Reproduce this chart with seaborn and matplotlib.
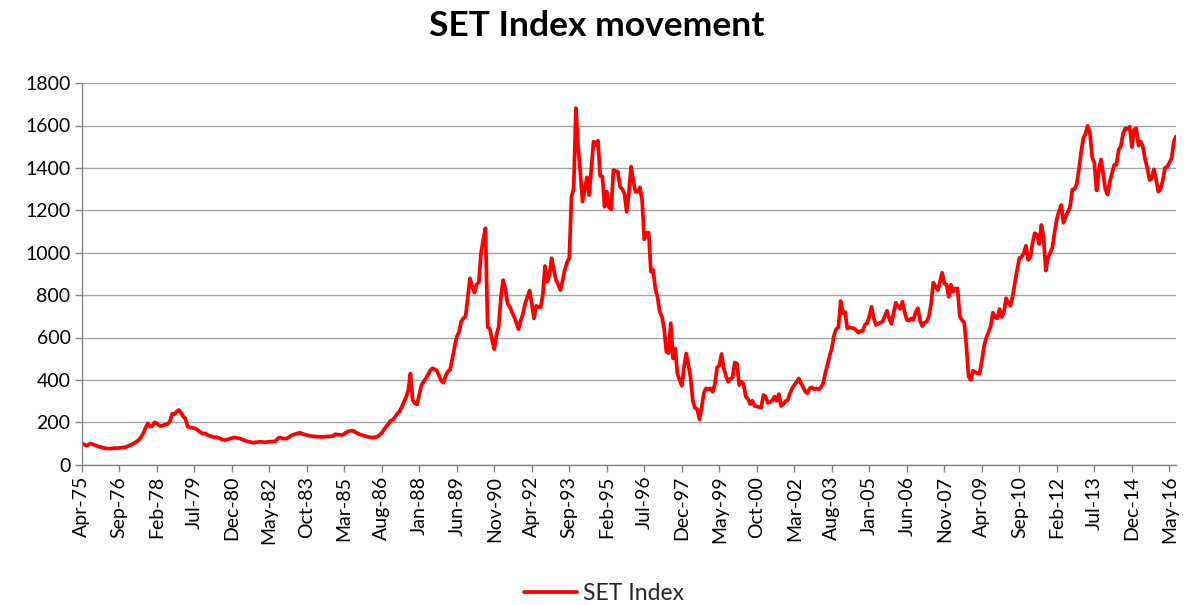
import numpy as np
import pandas as pd
import matplotlib
matplotlib.use("Agg")
import matplotlib.pyplot as plt
import seaborn as sns

# ---- data: month-end SET Index, Apr-1975 .. Aug-2016 ----
start_month = "1975-04"
tick_labels = ["Apr-75", "Sep-76", "Feb-78", "Jul-79", "Dec-80", "May-82", "Oct-83",
               "Mar-85", "Aug-86", "Jan-88", "Jun-89", "Nov-90", "Apr-92", "Sep-93",
               "Feb-95", "Jul-96", "Dec-97", "May-99", "Oct-00", "Mar-02", "Aug-03",
               "Jan-05", "Jun-06", "Nov-07", "Apr-09", "Sep-10", "Feb-12", "Jul-13",
               "Dec-14", "May-16"]
y_ticks = [0, 200, 400, 600, 800, 1000, 1200, 1400, 1600, 1800]

v1975 = [100, 96, 90, 94, 100, 96, 92, 88, 85]
v1976 = [82, 79, 77, 76, 76, 77, 78, 78, 79, 80, 81, 83]
v1977 = [88, 92, 97, 103, 110, 118, 132, 150, 175, 195, 180, 182]
v1978 = [200, 196, 185, 182, 186, 190, 192, 205, 240, 238, 250, 258]
v1979 = [245, 228, 218, 180, 176, 175, 172, 168, 160, 152, 146, 148]
v1980 = [140, 136, 133, 130, 129, 127, 122, 118, 116, 118, 122, 125]
v1981 = [128, 127, 125, 122, 118, 114, 110, 108, 105, 104, 106, 107]
v1982 = [108, 107, 106, 107, 108, 109, 110, 112, 125, 128, 124, 123]
v1983 = [124, 130, 138, 142, 145, 148, 151, 146, 142, 140, 137, 135]
v1984 = [134, 133, 132, 132, 131, 132, 133, 133, 134, 136, 144, 142]
v1985 = [141, 140, 145, 152, 158, 160, 160, 154, 148, 143, 140, 136]
v1986 = [134, 131, 129, 128, 130, 132, 140, 150, 165, 180, 192, 207]
v1987 = [212, 225, 240, 250, 270, 295, 318, 350, 430, 305, 290, 285]
v1988 = [330, 376, 392, 407, 425, 445, 455, 450, 443, 420, 395, 387]
v1989 = [420, 440, 448, 500, 555, 604, 625, 675, 690, 700, 790, 879]
v1990 = [840, 812, 850, 860, 1000, 1060, 1115, 650, 640, 590, 545, 612]
v1991 = [651, 790, 871, 830, 760, 745, 720, 698, 670, 639, 680, 711]
v1992 = [761, 790, 821, 760, 690, 749, 745, 742, 800, 937, 863, 893]
v1993 = [974, 920, 871, 850, 824, 870, 920, 955, 974, 1264, 1304, 1682]
v1994 = [1500, 1380, 1241, 1300, 1356, 1272, 1400, 1524, 1508, 1528, 1362, 1360]
v1995 = [1217, 1288, 1214, 1205, 1390, 1385, 1382, 1311, 1300, 1280, 1193, 1281]
v1996 = [1406, 1340, 1288, 1288, 1308, 1249, 1063, 1094, 1094, 910, 919, 832]
v1997 = [790, 722, 698, 640, 533, 527, 667, 502, 549, 430, 400, 373]
v1998 = [460, 525, 470, 410, 300, 267, 262, 214, 270, 340, 360, 356]
v1999 = [360, 344, 380, 459, 468, 522, 455, 420, 392, 405, 411, 482]
v2000 = [477, 376, 392, 380, 321, 310, 286, 302, 277, 275, 272, 269]
v2001 = [329, 321, 292, 295, 302, 321, 302, 333, 277, 285, 300, 304]
v2002 = [337, 360, 376, 390, 407, 385, 365, 345, 337, 360, 365, 356]
v2003 = [360, 355, 364, 380, 430, 470, 513, 550, 610, 640, 648, 772]
v2004 = [716, 720, 643, 648, 645, 643, 635, 623, 630, 631, 660, 668]
v2005 = [700, 745, 690, 659, 665, 670, 675, 700, 726, 690, 665, 714]
v2006 = [764, 745, 735, 769, 720, 683, 680, 690, 683, 720, 738, 680]
v2007 = [654, 670, 675, 700, 760, 859, 840, 824, 860, 906, 854, 850]
v2008 = [792, 849, 816, 831, 831, 700, 683, 670, 560, 415, 400, 443]
v2009 = [437, 430, 431, 490, 560, 597, 625, 653, 717, 697, 690, 734]
v2010 = [697, 720, 785, 763, 750, 797, 860, 920, 974, 980, 997, 1033]
v2011 = [966, 980, 1047, 1092, 1084, 1041, 1131, 1070, 916, 975, 1000, 1025]
v2012 = [1100, 1160, 1197, 1225, 1141, 1172, 1192, 1217, 1298, 1300, 1324, 1392]
v2013 = [1475, 1540, 1562, 1598, 1562, 1451, 1423, 1294, 1383, 1440, 1372, 1298]
v2014 = [1274, 1335, 1376, 1414, 1415, 1485, 1502, 1561, 1586, 1584, 1594, 1498]
v2015 = [1581, 1587, 1506, 1524, 1500, 1440, 1400, 1343, 1350, 1393, 1343, 1288]
v2016 = [1301, 1340, 1400, 1405, 1424, 1445, 1524, 1548]

values = (v1975 + v1976 + v1977 + v1978 + v1979 + v1980 + v1981 + v1982 + v1983 +
          v1984 + v1985 + v1986 + v1987 + v1988 + v1989 + v1990 + v1991 + v1992 +
          v1993 + v1994 + v1995 + v1996 + v1997 + v1998 + v1999 + v2000 + v2001 +
          v2002 + v2003 + v2004 + v2005 + v2006 + v2007 + v2008 + v2009 + v2010 +
          v2011 + v2012 + v2013 + v2014 + v2015 + v2016)

months = pd.date_range(start_month, periods=len(values), freq="MS")
df = pd.DataFrame({"idx": np.arange(len(values)), "month": months, "SET Index": values})

# ---- style ----
sns.set_theme(style="white")
plt.rcParams["font.family"] = ["Lato", "DejaVu Sans"]

fig = plt.figure(figsize=(11.93, 6.05), dpi=100)
ax = fig.add_axes([81.7 / 1193, 1 - 464.7 / 605, (1176 - 81.7) / 1193, (464.7 - 83.1) / 605])

sns.lineplot(data=df, x="idx", y="SET Index", color="#FF0000", linewidth=2.7,
             ax=ax, label="SET Index", legend=False)

ax.set_xlim(0, len(values) - 1)
ax.set_ylim(0, 1800)
ax.set_xticks(np.arange(0, len(values), 17))
ax.set_xticklabels(tick_labels, rotation=90, fontsize=14, color="#000000")
ax.set_yticks(y_ticks)
ax.set_yticklabels([str(t) for t in y_ticks], fontsize=14, color="#000000")
ax.set_xlabel("")
ax.set_ylabel("")

ax.yaxis.grid(True, color="#A6A6A6", linewidth=1.0)
ax.xaxis.grid(False)
ax.set_axisbelow(True)
for s in ["top", "right"]:
    ax.spines[s].set_visible(False)
for s in ["left", "bottom"]:
    ax.spines[s].set_color("#868686")
    ax.spines[s].set_linewidth(1.0)
ax.tick_params(axis="both", which="major", direction="out", length=5, width=1,
               color="#868686", pad=3, bottom=True, left=True)

fig.text(0.5, 1 - 26 / 605, "SET Index movement", ha="center", va="center",
         fontsize=25.5, fontweight="bold", color="#000000")

handles, labels = ax.get_legend_handles_labels()
fig.legend(handles, labels, loc="center", bbox_to_anchor=(604 / 1193, 11 / 605),
           frameon=False, fontsize=16.5, handlelength=2.3, handletextpad=0.25,
           borderpad=0.2)

fig.savefig("out.png", dpi=100)
